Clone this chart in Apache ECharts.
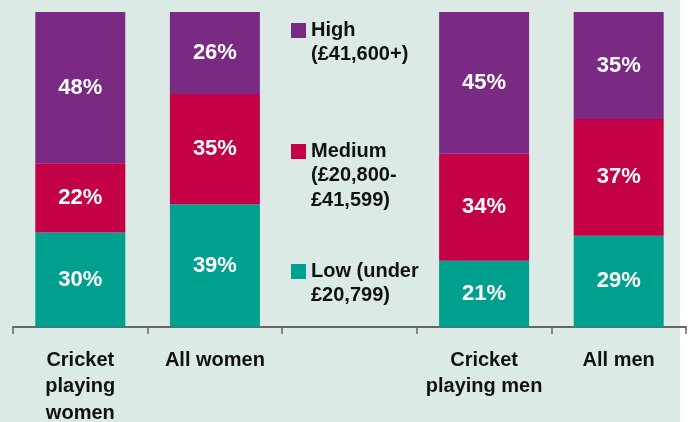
<!DOCTYPE html>
<html>
<head>
<meta charset="utf-8">
<script src="https://cdn.jsdelivr.net/npm/echarts@6/dist/echarts.min.js"></script>
<style>
  html, body { margin: 0; padding: 0; background: #fff; }
  #chart {
    width: 692px; height: 422px;
    background: linear-gradient(to right, #dceae5 680px, #ffffff 680px);
  }
</style>
</head>
<body>
<div id="chart"></div>
<script>
// income bands by group (percent)
const categories = ['Cricket\nplaying\nwomen', 'All women', '', 'Cricket\nplaying men', 'All men'];
const lowIncome = [30, 39, null, 21, 29];
const mediumIncome = [22, 35, null, 34, 37];
const highIncome = [48, 26, null, 45, 35];

const legendItems = [
    { name: 'High\n(£41,600+)', color: '#7b2a83' },
    { name: 'Medium\n(£20,800-\n£41,599)', color: '#c40047' },
    { name: 'Low (under\n£20,799)', color: '#00a08e' }
];

const FONT = "'Liberation Sans', Arial, sans-serif";
const chart = echarts.init(document.getElementById('chart'));

function barSeries(name, data, color) {
    return {
        name: name,
        type: 'bar',
        stack: 'income',
        barWidth: 90,
        data: data,
        itemStyle: { color: color },
        label: {
            show: true,
            position: 'inside',
            color: '#fff',
            fontFamily: FONT,
            fontWeight: 'bold',
            fontSize: 22,
            formatter: p => p.value + '%'
        }
    };
}

// legend drawn as graphic so the swatch sits on the first text line
const legendTops = [23, 144, 264];
const legendGraphic = [];
legendItems.forEach((item, i) => {
    legendGraphic.push({
        type: 'rect',
        left: 291, top: legendTops[i],
        shape: { width: 15, height: 15 },
        style: { fill: item.color }
    });
    legendGraphic.push({
        type: 'text',
        left: 311, top: legendTops[i] - 5,
        style: {
            text: item.name,
            fill: '#111',
            font: 'bold 20px ' + FONT,
            lineHeight: 24.5
        }
    });
});

const option = {
    animation: false,
    backgroundColor: 'transparent',
    grid: { left: 13, right: 6, top: 12, bottom: 95, containLabel: false, outerBoundsMode: 'none' },
    xAxis: {
        type: 'category',
        data: categories,
        axisLine: { lineStyle: { color: '#666', width: 2 } },
        axisTick: { show: true, length: 7, lineStyle: { color: '#666', width: 1.5 } },
        axisLabel: {
            margin: 20,
            color: '#111',
            fontFamily: FONT,
            fontWeight: 'bold',
            fontSize: 20,
            lineHeight: 26.5,
            interval: 0
        }
    },
    yAxis: {
        type: 'value',
        min: 0,
        max: 100,
        show: false
    },
    series: [
        barSeries('Low', lowIncome, legendItems[2].color),
        barSeries('Medium', mediumIncome, legendItems[1].color),
        barSeries('High', highIncome, legendItems[0].color)
    ],
    graphic: legendGraphic
};

chart.setOption(option);
</script>
</body>
</html>
